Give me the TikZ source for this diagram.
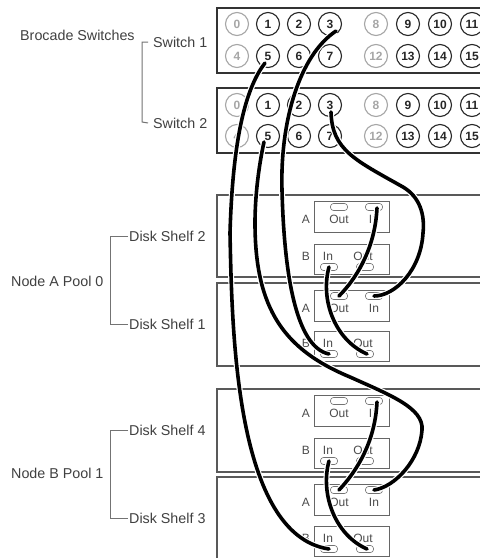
\documentclass[tikz,border=0pt]{standalone}
\usepackage{fontspec}
\setmainfont{Liberation Sans}
\tikzset{
tag/.style={font=\fontsize{14.3}{16}\selectfont,text=black!75,inner sep=1pt},
small/.style={font=\fontsize{12}{14}\selectfont,text=black!70,inner sep=0pt},
porton/.style={circle,draw=black!85,line width=1.1pt,minimum size=23pt,inner sep=0pt,font=\fontsize{12}{14}\selectfont\bfseries,text=black!85},
portoff/.style={circle,draw=black!35,line width=1.1pt,minimum size=23pt,inner sep=0pt,font=\fontsize{12}{14}\selectfont\bfseries,text=black!35},
plug/.style={draw=black!55,line width=0.6pt,rounded corners=3pt,minimum width=17pt,minimum height=7pt,inner sep=0pt},
bracket/.style={draw=black!55,line width=1pt},
rack/.style={draw=black!80,line width=1.4pt},
shelf/.style={draw=black!65,line width=1.2pt},
module/.style={draw=black!60,line width=0.8pt},
cable/.style={line width=3.6pt,line cap=round,draw=black,preaction={draw=white,line width=6pt,line cap=butt}}
}
\begin{document}
\begin{tikzpicture}[x=1pt,y=-1pt]
\useasboundingbox (0,0) rectangle (480,558);
\fill[white] (0,0) rectangle (480,558);
% left labels
\node[tag,anchor=west] (brocade) at (19,35) {Brocade Switches};
\node[tag,anchor=west] (switchone) at (152,42) {Switch 1};
\node[tag,anchor=west] (switchtwo) at (152,123) {Switch 2};
\node[tag,anchor=west] (nodea) at (10,281) {Node A Pool 0};
\node[tag,anchor=west] (diskb) at (128,236) {Disk Shelf 2};
\node[tag,anchor=west] (diska) at (128,324) {Disk Shelf 1};
\node[tag,anchor=west] (nodeb) at (10,473) {Node B Pool 1};
\node[tag,anchor=west] (diskd) at (128,430) {Disk Shelf 4};
\node[tag,anchor=west] (diskc) at (128,518) {Disk Shelf 3};
\draw[bracket,shorten <=4pt] (switchone.west) -- (142,42) -- (142,122) -- ([xshift=-4pt]switchtwo.west);
\draw[bracket] (diskb.west) -- (110,236) -- (110,324) -- (diska.west);
\draw[bracket] (diskd.west) -- (110,430) -- (110,518) -- (diskc.west);
% racks
\foreach \top/\bot in {8/73,88/153}{
\draw[rack] (480,\top) -- (217,\top) -- (217,\bot) -- (480,\bot);
}
\foreach \top/\bot in {195/277,283/366,389/472}{
\draw[shelf] (480,\top) -- (217,\top) -- (217,\bot) -- (480,\bot);
}
\draw[shelf] (480,477) -- (217,477) -- (217,558);
% switch ports
\foreach \sw/\ya/\yb in {sa/24/56,sb/105/136}{
\foreach \i/\x/\st in {0/237/portoff,1/268/porton,2/299/porton,3/330/porton,8/376/portoff,9/408/porton,10/440/porton,11/472/porton}{
\pgfmathtruncatemacro{\j}{\i+4}
\node[\st] (\sw-p\i) at (\x,\ya) {\i};
\node[\st] (\sw-p\j) at (\x,\yb) {\j};
}
}
% shelf modules
\foreach \s/\ya/\yb in {sd/207/267,sc/296/354,sf/401/461,se/490/549}{
\draw[module] (314,\ya-6) rectangle (389,\ya+25);
\draw[module] (314,\yb-23) rectangle (389,\yb+7);
\node[small] (\s-ta) at (306,\ya+12) {A};
\node[small] (\s-tb) at (306,\yb-11) {B};
\node[plug] (\s-aout) at (339,\ya) {};
\node[plug] (\s-ain) at (374,\ya) {};
\node[plug] (\s-bin) at (329,\yb) {};
\node[plug] (\s-bout) at (365,\yb) {};
\node[small] (\s-aoutt) at (339,\ya+12) {Out};
\node[small] (\s-aint) at (374,\ya+12) {In};
\node[small] (\s-bint) at (328,\yb-11) {In};
\node[small] (\s-boutt) at (363,\yb-11) {Out};
}
% cables
\draw[cable] ([xshift=6pt,yshift=-7pt]sa-p3.center) .. controls (300,55) and (280,120) .. (282,190) .. controls (284,270) and (295,347) .. (sc-bin.center);
\draw[cable] ([xshift=-3pt,yshift=-7pt]sa-p5.center) .. controls (248,85) and (233,130) .. (230,233) .. controls (232,330) and (235,535) .. (se-bin.center);
\draw[cable] ([xshift=-4pt,yshift=-6pt]sb-p5.center) .. controls (259,165) and (255,195) .. (255,223) .. controls (255,310) and (285,350) .. (350,377) .. controls (390,395) and (424,408) .. (422,430) .. controls (420,460) and (395,487) .. (se-ain.center);
\draw[cable] ([xshift=1pt,yshift=-7pt]sb-p3.center) .. controls (332,150) and (355,160) .. (403,187) .. controls (420,197) and (425,215) .. (423,233) .. controls (421,270) and (395,296) .. (sc-ain.center);
\draw[cable] ([xshift=3pt,yshift=-1pt]sd-ain.center) .. controls (375,250) and (355,280) .. (sc-aout.center);
\draw[cable] (sd-bin.center) .. controls (320,300) and (335,340) .. ([xshift=2pt]sc-bout.center);
\draw[cable] ([xshift=3pt,yshift=-1pt]sf-ain.center) .. controls (375,444) and (355,473) .. (se-aout.center);
\draw[cable] (sf-bin.center) .. controls (320,494) and (335,535) .. ([xshift=2pt]se-bout.center);
\end{tikzpicture}
\end{document}
